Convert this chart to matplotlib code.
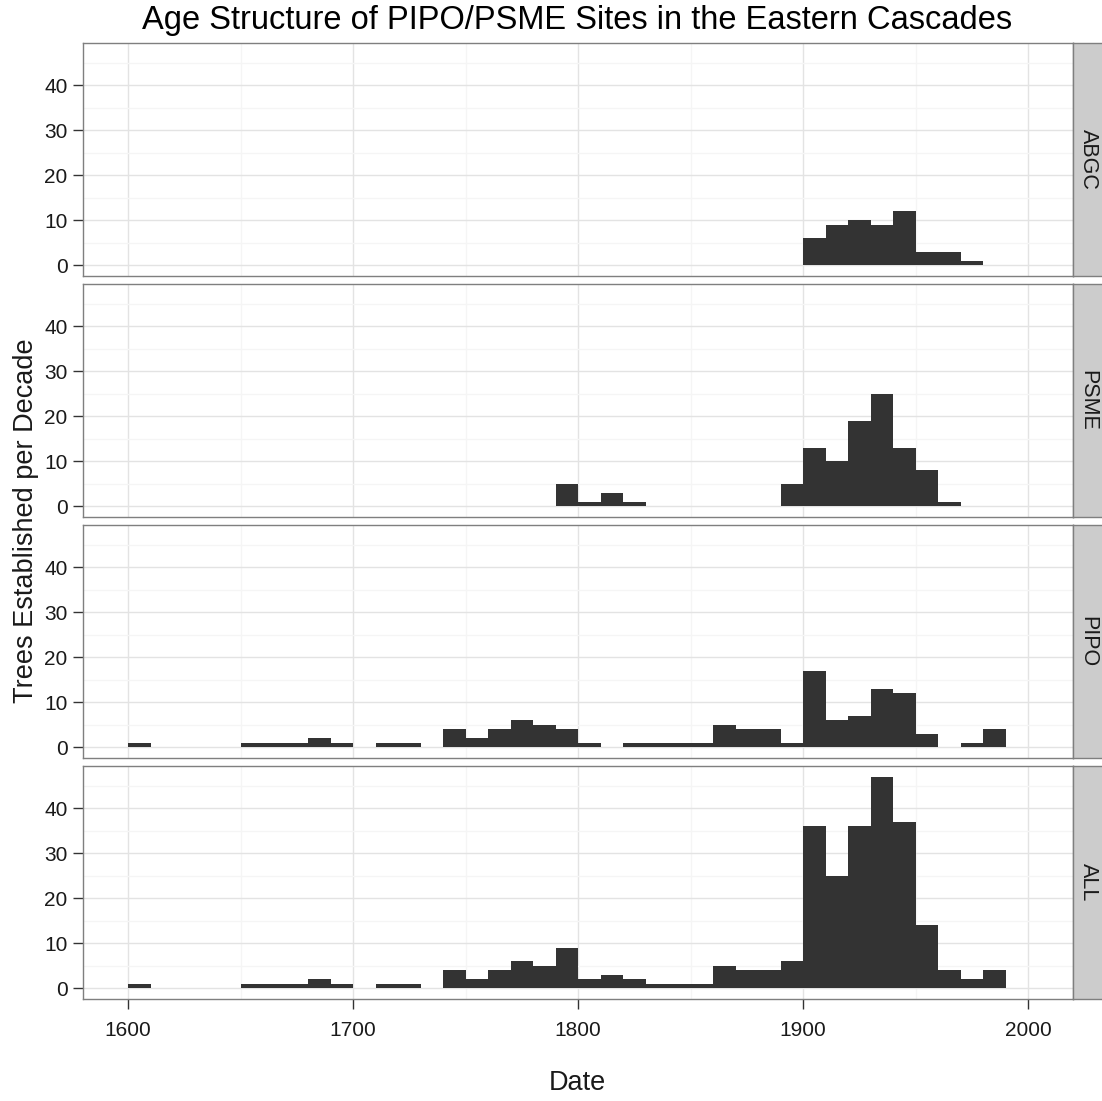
import matplotlib
matplotlib.use("Agg")
import matplotlib.pyplot as plt
from matplotlib.ticker import MultipleLocator

plt.rcParams['font.family'] = ['Liberation Sans', 'DejaVu Sans']

# Trees established per decade (decade start year -> count)
abgc_decades = [1900, 1910, 1920, 1930, 1940, 1950, 1960, 1970]
abgc_counts = [6, 9, 10, 9, 12, 3, 3, 1]

psme_decades = [1790, 1800, 1810, 1820, 1890, 1900, 1910, 1920, 1930, 1940, 1950, 1960]
psme_counts = [5, 1, 3, 1, 5, 13, 10, 19, 25, 13, 8, 1]

pipo_decades = [1600, 1650, 1660, 1670, 1680, 1690, 1710, 1720, 1740, 1750, 1760,
                1770, 1780, 1790, 1800, 1820, 1830, 1840, 1850, 1860, 1870, 1880,
                1890, 1900, 1910, 1920, 1930, 1940, 1950, 1970, 1980]
pipo_counts = [1, 1, 1, 1, 2, 1, 1, 1, 4, 2, 4,
               6, 5, 4, 1, 1, 1, 1, 1, 5, 4, 4,
               1, 17, 6, 7, 13, 12, 3, 1, 4]

all_decades = [1600, 1650, 1660, 1670, 1680, 1690, 1710, 1720, 1740, 1750, 1760,
               1770, 1780, 1790, 1800, 1810, 1820, 1830, 1840, 1850, 1860, 1870,
               1880, 1890, 1900, 1910, 1920, 1930, 1940, 1950, 1960, 1970, 1980]
all_counts = [1, 1, 1, 1, 2, 1, 1, 1, 4, 2, 4,
              6, 5, 9, 2, 3, 2, 1, 1, 1, 5, 4,
              4, 6, 36, 25, 36, 47, 37, 14, 4, 2, 4]

facet_labels = ["ABGC", "PSME", "PIPO", "ALL"]
y_ticks = [0, 10, 20, 30, 40]
x_ticks = [1600, 1700, 1800, 1900, 2000]

series = [(abgc_decades, abgc_counts), (psme_decades, psme_counts),
          (pipo_decades, pipo_counts), (all_decades, all_counts)]

W, H = 1102, 1101
fig = plt.figure(figsize=(W / 100, H / 100), dpi=100)
fig.patch.set_facecolor('white')

left, right = 83, 1073
strip_w = 30
panel_rows = [(43, 276), (284, 517), (525, 758), (766, 999)]

tick_col = '#333333'
text_col = '#1a1a1a'
border_col = '#7f7f7f'

for i, ((top, bot), (dec, cnt), lab) in enumerate(zip(panel_rows, series, facet_labels)):
    ax = fig.add_axes([left / W, 1 - bot / H, (right - left) / W, (bot - top) / H])
    ax.bar(dec, cnt, width=10, align='edge', color='#333333', linewidth=0, zorder=2)
    ax.set_xlim(1580, 2020)
    ax.set_ylim(-2.35, 49.35)
    ax.set_yticks(y_ticks)
    ax.set_xticks(x_ticks)
    ax.yaxis.set_minor_locator(MultipleLocator(5))
    ax.xaxis.set_minor_locator(MultipleLocator(50))
    ax.grid(which='major', color='#e3e3e3', linewidth=1.0, zorder=0)
    ax.grid(which='minor', color='#f5f5f5', linewidth=1.0, zorder=0)
    ax.set_axisbelow(True)
    for sp in ax.spines.values():
        sp.set_color(border_col)
        sp.set_linewidth(1.0)
    ax.tick_params(which='minor', length=0)
    ax.tick_params(axis='y', which='major', length=7, width=1, color=tick_col,
                   labelsize=15, labelcolor=text_col, pad=4)
    if i < 3:
        ax.tick_params(axis='x', which='major', length=0, labelbottom=False)
    else:
        ax.tick_params(axis='x', which='major', length=7, width=1, color=tick_col,
                       labelsize=15, labelcolor=text_col, pad=9)

    sax = fig.add_axes([right / W, 1 - bot / H, strip_w / W, (bot - top) / H])
    sax.set_facecolor('#cccccc')
    sax.set_xticks([])
    sax.set_yticks([])
    for sp in sax.spines.values():
        sp.set_color(border_col)
        sp.set_linewidth(1.0)
    sax.text(0.5, 0.5, lab, rotation=-90, ha='center', va='center',
             fontsize=15.5, color=text_col, transform=sax.transAxes)

fig.text(577 / W, 1 - 21 / H, "Age Structure of PIPO/PSME Sites in the Eastern Cascades",
         ha='center', va='center', fontsize=23.5, color='black')
fig.text(577 / W, 1 - 1083 / H, "Date", ha='center', va='center',
         fontsize=19.5, color=text_col)
fig.text(26 / W, 1 - 521 / H, "Trees Established per Decade", ha='center', va='center',
         rotation=90, fontsize=19.5, color=text_col)

fig.savefig("out.png", dpi=100, facecolor='white')
